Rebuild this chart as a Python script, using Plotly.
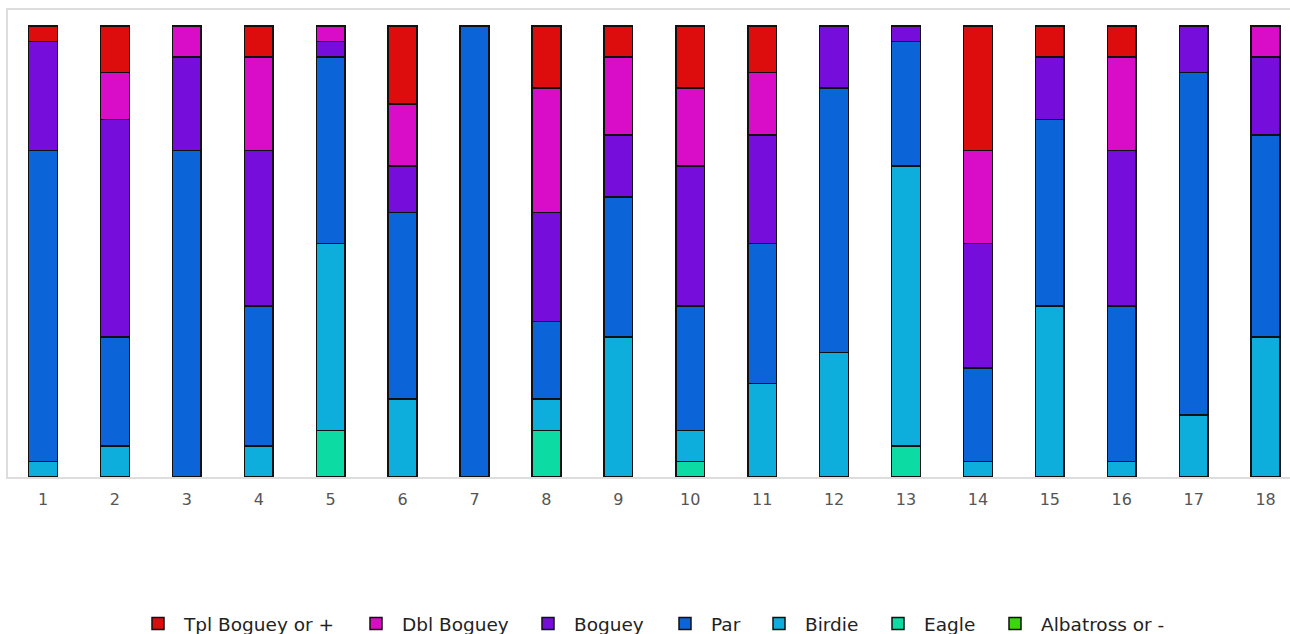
import plotly.graph_objects as go

holes = [str(i) for i in range(1, 19)]

tpl_boguey = [1, 3, 0, 2, 0, 5, 0, 4, 2, 4, 3, 0, 0, 8, 2, 2, 0, 0]
dbl_boguey = [0, 3, 2, 6, 1, 4, 0, 8, 5, 5, 4, 0, 0, 6, 0, 6, 0, 2]
boguey     = [7, 14, 6, 10, 1, 3, 0, 7, 4, 9, 7, 4, 1, 8, 4, 10, 3, 5]
par        = [20, 7, 21, 9, 12, 12, 29, 5, 9, 8, 9, 17, 8, 6, 12, 10, 22, 13]
birdie     = [1, 2, 0, 2, 12, 5, 0, 2, 9, 2, 6, 8, 18, 1, 11, 1, 4, 9]
eagle      = [0, 0, 0, 0, 3, 0, 0, 3, 0, 1, 0, 0, 2, 0, 0, 0, 0, 0]
albatross  = [0] * 18

series = [
    ("Albatross or -", albatross, "rgb(55,217,13)"),
    ("Eagle", eagle, "rgb(13,219,164)"),
    ("Birdie", birdie, "rgb(13,174,219)"),
    ("Par", par, "rgb(11,101,217)"),
    ("Boguey", boguey, "rgb(119,13,219)"),
    ("Dbl Boguey", dbl_boguey, "rgb(217,13,199)"),
    ("Tpl Boguey or +", tpl_boguey, "rgb(221,13,13)"),
]

# legend symbol centre positions (pixels) for each series
legend_centres = {
    "Tpl Boguey or +": 158, "Dbl Boguey": 376, "Boguey": 548, "Par": 685,
    "Birdie": 779, "Eagle": 898, "Albatross or -": 1015,
}

W, H = 1290, 634
fig = go.Figure()
layout_legends = {}
for i, (name, vals, color) in enumerate(series):
    lname = f"legend{i + 2}"
    fig.add_trace(go.Bar(
        x=holes, y=vals, name=name, legend=lname,
        marker=dict(color=color, line=dict(color="#111111", width=1.5)),
    ))
    layout_legends[lname] = dict(
        orientation="h",
        xref="container", yref="container",
        x=(legend_centres[name] - 26) / W, xanchor="left",
        y=(H - 624) / H, yanchor="middle",
        itemwidth=42,
        font=dict(family="DejaVu Sans", size=18.5, color="#222222"),
        bgcolor="rgba(0,0,0,0)",
    )

fig.update_layout(
    barmode="stack",
    bargap=0.6,
    width=W, height=H,
    margin=dict(l=8, r=0, t=10, b=157),
    plot_bgcolor="white",
    paper_bgcolor="white",
    showlegend=True,
    font=dict(family="DejaVu Sans", size=16, color="#444444"),
    xaxis=dict(
        type="category",
        range=[-0.487, 17.34],
        showline=True, linecolor="#dddddd", linewidth=2, mirror=True,
        showgrid=False, ticks="outside", ticklen=7, tickcolor="rgba(0,0,0,0)",
        tickfont=dict(size=16, color="#555555"),
    ),
    yaxis=dict(
        range=[0, 30.03],
        showline=True, linecolor="#dddddd", linewidth=2,
        showgrid=False, showticklabels=False, zeroline=False, ticks="",
    ),
    **layout_legends,
)

fig.write_html("out.html", config={"displayModeBar": False},
               post_script="document.body.style.margin='0px';")
